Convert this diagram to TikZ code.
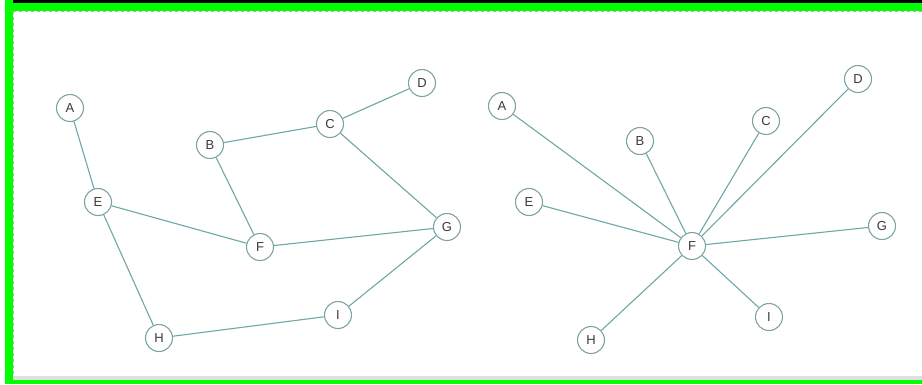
\documentclass[tikz,border=0pt]{standalone}
\usepackage{fontspec}
\setmainfont{Liberation Sans}
\definecolor{edgec}{HTML}{6FA6A6}
\definecolor{ringc}{HTML}{7FA3A3}
\definecolor{txtc}{HTML}{3A3A3A}
\definecolor{framegreen}{HTML}{00FF00}
\begin{document}
\begin{tikzpicture}[x=1pt,y=-1pt,
  vtx/.style={circle,draw=ringc,line width=1.1pt,fill=white,minimum size=27pt,inner sep=0pt,font=\fontsize{13}{13}\selectfont,text=txtc},
  edge/.style={draw=edgec,line width=1.1pt}]
\useasboundingbox (0,0) rectangle (922,384);
% frame
\fill[framegreen] (5,0) rectangle (922,11);
\fill[black] (5,0) rectangle (922,2.5);
\fill[framegreen] (5,0) rectangle (13,384);
\fill[framegreen] (5,380) rectangle (922,384);
\draw[gray!60,line width=0.6pt,dash pattern=on 3pt off 3pt] (13,11) -- (922,11);
\draw[gray!60,line width=0.6pt,dash pattern=on 3pt off 3pt] (13,11) -- (13,380);
\fill[gray!25] (13,376) rectangle (922,380);
% left graph
\node[vtx] (lA) at (70,108) {A};
\node[vtx] (lB) at (210,145) {B};
\node[vtx] (lC) at (330,124) {C};
\node[vtx] (lD) at (422,83) {D};
\node[vtx] (lE) at (98,202) {E};
\node[vtx] (lF) at (260,247) {F};
\node[vtx] (lG) at (447,227) {G};
\node[vtx] (lH) at (159,338) {H};
\node[vtx] (lI) at (338,315) {I};
\draw[edge] (lA) -- (lE);
\draw[edge] (lE) -- (lF);
\draw[edge] (lE) -- (lH);
\draw[edge] (lB) -- (lF);
\draw[edge] (lB) -- (lC);
\draw[edge] (lC) -- (lD);
\draw[edge] (lC) -- (lG);
\draw[edge] (lF) -- (lG);
\draw[edge] (lG) -- (lI);
\draw[edge] (lH) -- (lI);
% right graph
\node[vtx] (rA) at (502,106) {A};
\node[vtx] (rB) at (640,141) {B};
\node[vtx] (rC) at (766,121) {C};
\node[vtx] (rD) at (858,79) {D};
\node[vtx] (rE) at (529,202) {E};
\node[vtx] (rF) at (692,246) {F};
\node[vtx] (rG) at (882,226) {G};
\node[vtx] (rH) at (591,340) {H};
\node[vtx] (rI) at (769,317) {I};
\foreach \n in {A,B,C,D,E,G,H,I} \draw[edge] (rF) -- (r\n);
\end{tikzpicture}
\end{document}
